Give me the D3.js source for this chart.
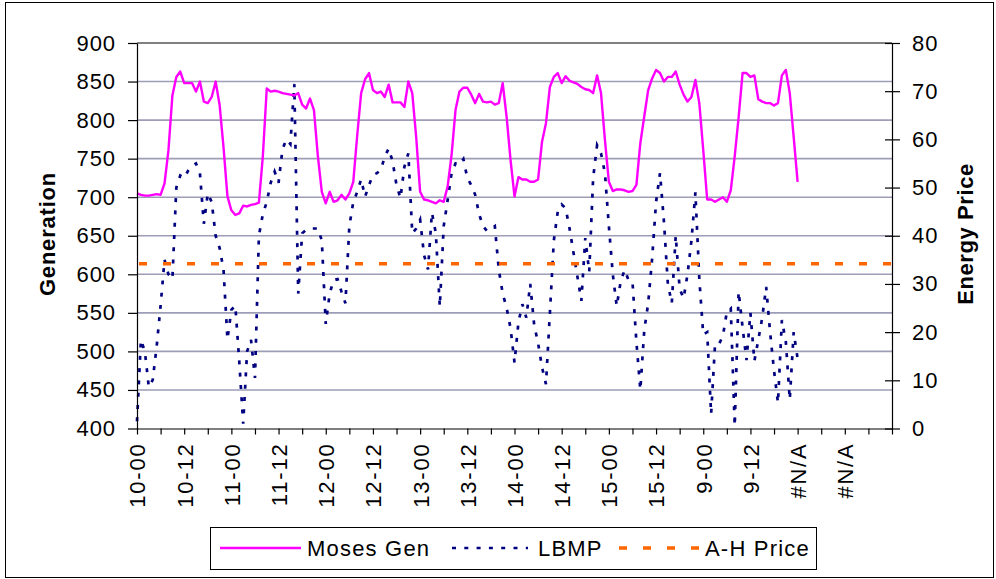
<!DOCTYPE html>
<html><head><meta charset="utf-8">
<script src="https://cdn.jsdelivr.net/npm/d3@7"></script>
<style>
html,body{margin:0;padding:0;background:#fff;}
svg{display:block;font-family:"Liberation Sans",Arial,sans-serif;}
</style></head><body>
<svg id="c" width="996" height="579"></svg>
<script>
const categoryLabels = ["10-00","10-12","11-00","11-12","12-00","12-12","13-00","13-12","14-00","14-12","15-00","15-12","9-00","9-12","#N/A","#N/A"];
const genValues = [
705,703,702,702,703,704,703,718,761,832,
856,863,848,848,848,837,850,824,822,830,
850,820,765,701,683,677,679,689,688,690,
691,693,753,841,837,838,837,835,834,833,
832,835,820,815,828,813,753,707,692,707,
694,696,703,697,705,720,780,835,853,861,
839,835,837,830,846,823,823,823,817,850,
835,778,707,697,696,694,692,696,694,714,
755,813,837,842,842,833,822,834,824,823,
824,820,822,848,804,748,701,726,723,723,
720,720,723,772,796,843,856,861,848,857,
851,849,847,843,840,839,835,858,835,774,
720,708,710,710,709,707,708,716,770,805,
839,854,865,861,850,856,856,863,846,833,
824,830,852,822,761,697,697,694,697,700,
694,709,753,804,861,861,856,858,827,824,
822,822,819,822,858,865,835,778,720];
const lbmpValues = [
1.5,18.4,16,8.6,10.1,17,25.5,35,32,31,
50,52.5,52,53.5,54.5,55,53,42.5,48.8,47,
40,37.5,33,18.5,24.6,25.5,14,1,16,18.4,
10.5,40,44.5,47,51,53.3,51,58,60,59,
71.5,28,40.5,41.2,41.5,41.5,41.5,39,21.7,28,
30.8,31,28.4,26,42,47,49.1,51.7,48.1,50.5,
52.6,53,53.6,56.4,58.1,55.4,50.5,47.8,54.3,57.1,
40.5,41.5,43.3,36,33,44.8,40.5,25.3,42,47.4,
53,55,54.7,55.9,52,50.5,48.5,44.5,42,41,
41.5,42,33,28,25,20.8,13.7,22,25.8,23,
30,21.5,17.7,12.7,9.2,24,39,45,46.5,45.7,
41.5,36.5,31.5,26.5,39.5,32.5,52,58.8,57.1,53,
42,32,25.4,30.5,32.9,30.8,30.5,18,8,20.4,
26,35.3,47,53,43,30,26,40,29,27,
32,39,49,31,19.5,20,3,17.5,17.5,19.2,
24.2,24.9,0.5,28.4,21,14.2,24,14,18.4,23,
29.4,20,12,5.3,22.5,18,6,20,14.5];
const ahPrice = 34.2;
const genTicks = [400,450,500,550,600,650,700,750,800,850,900];
const priceTicks = [0,10,20,30,40,50,60,70,80];
const legendNames = ["Moses Gen","LBMP","A-H Price"];
const lastCategory = 192;

const svg = d3.select("#c");
const L=137, R=892, T=43, B=428.5;
const FS = 22, LS = "0.9px";

const x = d3.scaleLinear().domain([0,lastCategory]).range([L,R]);
const yG = d3.scaleLinear().domain([400,900]).range([B,T]);
const yP = d3.scaleLinear().domain([0,80]).range([B,T]);

// outer border
svg.append("rect").attr("x",5.5).attr("y",2.5).attr("width",988).attr("height",575)
  .attr("fill","#fff").attr("stroke","#000").attr("stroke-width",1);

// gridlines
svg.append("g").selectAll("line").data(genTicks.filter(v=>v>400 && v<900)).join("line")
  .attr("x1",L).attr("x2",R).attr("y1",d=>yG(d)).attr("y2",d=>yG(d))
  .attr("stroke","#9d9db8").attr("stroke-width",1.6);
// top border of plot
svg.append("line").attr("x1",L).attr("x2",R).attr("y1",yG(900)).attr("y2",yG(900))
  .attr("stroke","#808080").attr("stroke-width",2);

// series
const lineG = d3.line().x((d,i)=>x(i)).y(d=>yG(d));
const lineP = d3.line().x((d,i)=>x(i)).y(d=>yP(d));
svg.append("path").datum(lbmpValues).attr("d",lineP).attr("fill","none")
  .attr("stroke","#000080").attr("stroke-width",2.7).attr("stroke-dasharray","4,8.3");
svg.append("path").datum([0,lastCategory]).attr("d",d3.line().x(d=>x(d)).y(()=>yP(ahPrice)))
  .attr("fill","none").attr("stroke","#ff6600").attr("stroke-width",3.5).attr("stroke-dasharray","8,16")
  .attr("stroke-dashoffset",-2);
svg.append("path").datum(genValues).attr("d",lineG).attr("fill","none")
  .attr("stroke","#ff00ff").attr("stroke-width",2.4).attr("stroke-linejoin","round");

// axes
const axL = svg.append("g").attr("transform",`translate(${L},0)`)
  .call(d3.axisLeft(yG).tickValues(genTicks).tickSizeInner(9).tickSizeOuter(0).tickPadding(12));
const axR = svg.append("g").attr("transform",`translate(${R},0)`)
  .call(d3.axisRight(yP).tickValues(priceTicks).tickSizeInner(8).tickSizeOuter(0).tickPadding(12));
axR.selectAll(".tick line").attr("x1",-7);
const axB = svg.append("g").attr("transform",`translate(0,${B})`)
  .call(d3.axisBottom(x).tickValues(d3.range(0,lastCategory+1,6)).tickSizeInner(6).tickSizeOuter(0)
    .tickFormat(i => i%12===0 && i/12 < categoryLabels.length ? categoryLabels[i/12] : ""));
[axL,axR,axB].forEach(a=>{
  a.selectAll("path.domain").attr("stroke","#000").attr("stroke-width",1.2);
  a.selectAll(".tick line").attr("stroke","#000").attr("stroke-width",1.2);
  a.selectAll("text").attr("font-size",FS).attr("fill","#000").style("letter-spacing",LS)
    .attr("font-family","'Liberation Sans',Arial,sans-serif");
});
axB.selectAll(".tick text").attr("transform","rotate(-90)").attr("x",-14).attr("y",0)
  .attr("dy","0.36em").style("text-anchor","end").style("letter-spacing","1.8px");

// titles
svg.append("text").attr("transform","translate(55,234) rotate(-90)").attr("text-anchor","middle")
  .attr("font-size",FS).attr("font-weight","bold").style("letter-spacing","0.8px").text("Generation");
svg.append("text").attr("transform","translate(973,234) rotate(-90)").attr("text-anchor","middle")
  .attr("font-size",FS).attr("font-weight","bold").style("letter-spacing","0.6px").text("Energy Price");

// legend
const lg = svg.append("g");
lg.append("rect").attr("x",210.5).attr("y",527.5).attr("width",606).attr("height",42)
  .attr("fill","#fff").attr("stroke","#000").attr("stroke-width",1);
const ly = 548;
const legendItems = [
  {name:legendNames[0], x0:220, x1:301, tx:307, stroke:"#ff00ff", w:2.4, dash:null},
  {name:legendNames[1], x0:452, x1:528, tx:538, stroke:"#000080", w:2.7, dash:"4,8.3"},
  {name:legendNames[2], x0:619, x1:701, tx:705, stroke:"#ff6600", w:3.5, dash:"8,16"}
];
legendItems.forEach(it=>{
  const l = lg.append("line").attr("x1",it.x0).attr("x2",it.x1).attr("y1",ly).attr("y2",ly)
    .attr("stroke",it.stroke).attr("stroke-width",it.w);
  if(it.dash) l.attr("stroke-dasharray",it.dash);
  lg.append("text").attr("x",it.tx).attr("y",ly+8).attr("font-size",FS).style("letter-spacing","1.2px")
    .text(it.name);
});
</script>
</body></html>
